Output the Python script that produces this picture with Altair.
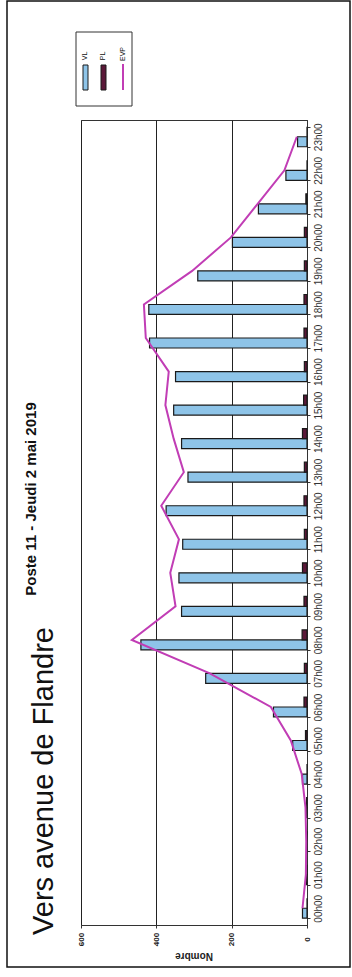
import altair as alt
import pandas as pd

# Hourly counts, Poste 11 - Thursday 2 May 2019
hours = ["00h00", "01h00", "02h00", "03h00", "04h00", "05h00", "06h00", "07h00",
         "08h00", "09h00", "10h00", "11h00", "12h00", "13h00", "14h00", "15h00",
         "16h00", "17h00", "18h00", "19h00", "20h00", "21h00", "22h00", "23h00"]
vl = [12, 2, 1, 3, 12, 38, 89, 269, 441, 333, 340, 330, 374, 316, 333, 354,
      349, 418, 420, 290, 198, 129, 56, 25]
pl = [0, 0, 0, 1, 0, 4, 8, 7, 13, 8, 12, 7, 8, 7, 12, 9,
      7, 8, 8, 7, 7, 3, 0, 0]
evp = [12, 3, 2, 4, 14, 43, 96, 258, 465, 349, 363, 340, 387, 327, 354, 376,
       367, 428, 433, 305, 202, 131, 60, 27]
series = ["VL", "PL", "EVP"]
value_ticks = [0, 200, 400, 600]

bars = pd.DataFrame({
    "heure": hours * 2,
    "type": ["VL"] * len(hours) + ["PL"] * len(hours),
    "nombre": vl + pl,
})
line_df = pd.DataFrame({"heure": hours, "nombre": evp, "rang": list(range(len(hours)))})

# plot area geometry (page pixels)
LEFT, TOP, RIGHT, BOTTOM = 81, 120, 307, 925
W, H = RIGHT - LEFT, BOTTOM - TOP
FONT = "Liberation Sans"

x_scale = alt.Scale(domain=[0, 600], reverse=True, nice=False, zero=True)
y_scale = alt.Scale(domain=hours[::-1], paddingInner=0.404, paddingOuter=0.202)

x_axis = alt.Axis(values=value_ticks, orient="bottom", labelAngle=270, labelAlign="center",
                  labelBaseline="middle", labelPadding=11, tickSize=3, tickColor="#333",
                  labelFontSize=8, labelFontWeight="bold", labelColor="#222", labelFont=FONT,
                  grid=True, gridColor="#222", gridWidth=1, domain=False, title=None)
y_axis = alt.Axis(orient="right", labelAngle=270, labelAlign="center", labelBaseline="middle",
                  labelPadding=8, tickSize=3, tickBand="extent", tickColor="#333",
                  labelFontSize=10, labelColor="#333", labelFont=FONT, domainColor="#333",
                  grid=False, title=None)

bar_layer = alt.Chart(bars).mark_bar(stroke="#1a1a1a", strokeWidth=1.2).encode(
    y=alt.Y("heure:N", scale=y_scale, axis=y_axis),
    yOffset=alt.YOffset("type:N", scale=alt.Scale(domain=["PL", "VL"])),
    x=alt.X("nombre:Q", scale=x_scale, axis=x_axis),
    color=alt.Color("type:N", scale=alt.Scale(domain=["VL", "PL"], range=["#8EC4E8", "#5B1838"]),
                    legend=None),
)

line_layer = alt.Chart(line_df).mark_line(color="#C13DB5", strokeWidth=2).encode(
    y=alt.Y("heure:N", scale=y_scale, axis=y_axis),
    x=alt.X("nombre:Q", scale=x_scale, axis=x_axis),
    order=alt.Order("rang:Q"),
)

one = alt.Data(values=[{}])


def px(x):
    return x - LEFT


def py(y):
    return y - TOP


def text(t, x, y, size, angle=270, weight="normal", color="#111"):
    return alt.Chart(one).mark_text(text=t, angle=angle, fontSize=size, fontWeight=weight,
                                    color=color, font=FONT, align="center",
                                    baseline="middle").encode(x=alt.value(px(x)), y=alt.value(py(y)))


def box(x1, y1, x2, y2, fill="transparent", stroke="#222", sw=1.0):
    return alt.Chart(one).mark_rect(fill=fill, stroke=stroke, strokeWidth=sw).encode(
        x=alt.value(px(x1)), x2=alt.value(px(x2)), y=alt.value(py(y1)), y2=alt.value(py(y2)))


frame = box(7, 1, 350, 967, stroke="#111", sw=1.5)

# legend
legend_box = box(76, 32, 132, 106, fill="white", stroke="#333", sw=1)
sw_vl = box(83, 65, 88, 90, fill="#8EC4E8", stroke="#1a1a1a", sw=1)
sw_pl = box(101, 65, 106, 90, fill="#5B1838", stroke="#1a1a1a", sw=1)
sw_evp = alt.Chart(one).mark_rule(color="#C13DB5", strokeWidth=2).encode(
    x=alt.value(px(123)), y=alt.value(py(64)), y2=alt.value(py(90)))
lg_texts = [text(series[0], 85, 56, 7), text(series[1], 103, 56, 7), text(series[2], 123, 54, 7)]

titles = [
    text("Poste 11 - Jeudi 2 mai 2019", 31, 499, 15, weight="bold"),
    text("Vers avenue de Flandre", 44, 781, 29),
    text("Nombre", 194, 956, 10, angle=180, weight="bold", color="#222"),
]

chart = alt.layer(
    frame, bar_layer, line_layer, legend_box, sw_vl, sw_pl, sw_evp, *lg_texts, *titles
).properties(
    width=W, height=H,
    autosize=alt.AutoSizeParams(type="none"),
    padding={"left": LEFT, "top": TOP, "right": 352 - RIGHT, "bottom": 977 - BOTTOM},
    background="white",
).configure_view(stroke="#333", strokeWidth=1)

chart.save("out.html", embed_options={"renderer": "svg", "actions": False})
